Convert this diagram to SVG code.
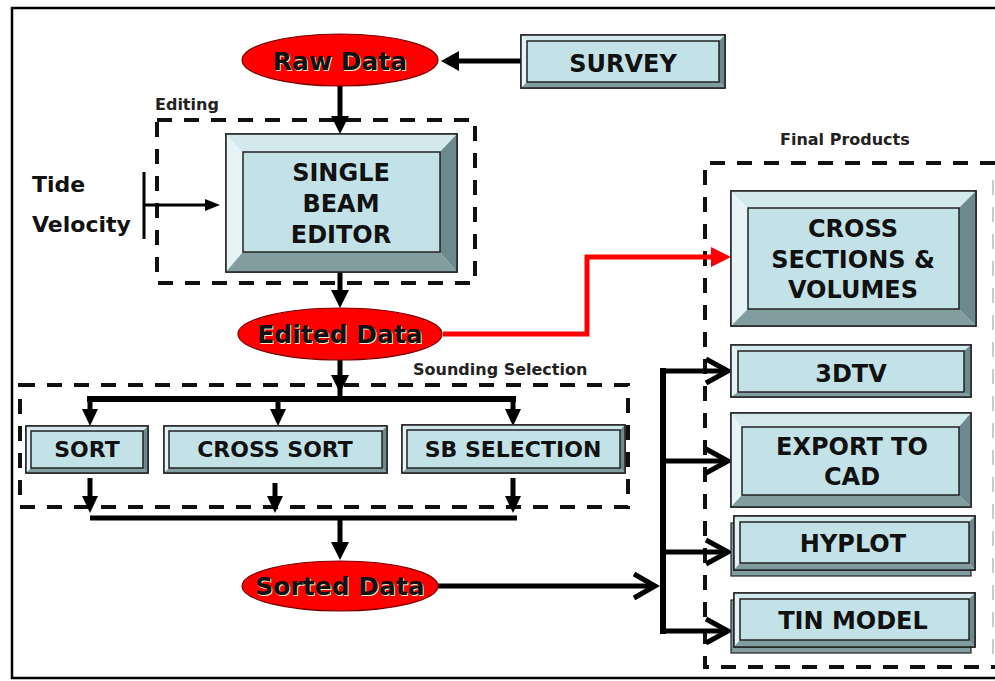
<svg xmlns="http://www.w3.org/2000/svg" width="995" height="681" viewBox="0 0 995 681">
<style>
.t{font-family:"DejaVu Sans","Verdana",sans-serif;font-weight:bold;fill:#111;text-anchor:middle}
.big{font-size:24px}
.mid{font-size:22px}
.lbl{font-family:"DejaVu Sans","Verdana",sans-serif;font-weight:bold;font-size:16px;fill:#222}
.sh{fill:#f0eccc}
.dash{fill:none;stroke:#111;stroke-width:4;stroke-dasharray:15 12}
.face{fill:#c3e2e7;stroke:#222;stroke-width:1.5}
.bt{fill:#d3e9ec}
.bl{fill:#e6f4f6}
.br{fill:#6c8a8d}
.bb{fill:#819da0}
.ol{fill:none;stroke:#222;stroke-width:1.5}
.ell{fill:#ff0000;stroke:#7a0000;stroke-width:1.2}
.ln{fill:none;stroke:#000;stroke-width:5}
.hd{fill:#000}
.chev{fill:none;stroke:#000;stroke-width:5;stroke-linejoin:miter}
</style>
<rect x="0" y="0" width="995" height="681" fill="#ffffff"/>
<rect x="12" y="8" width="995" height="670" fill="none" stroke="#000" stroke-width="2.5"/>

<!-- group frames -->
<g id="editing-group">
<rect class="dash" x="157" y="120" width="318" height="163"/>
<text class="lbl" x="155" y="110">Editing</text>
</g>
<g id="sounding-group">
<rect class="dash" x="20" y="385" width="608" height="122"/>
<text class="lbl" x="413" y="375">Sounding Selection</text>
</g>
<g id="final-group">
<path class="dash" d="M995 163 H705 V667 H995"/>
<line x1="993" y1="180" x2="993" y2="660" stroke="#bbb" stroke-width="1.5" stroke-dasharray="15 12"/>
<text class="lbl" x="780" y="145">Final Products</text>
</g>

<!-- connectors -->
<g id="connectors">
<line class="ln" x1="521" y1="61" x2="455" y2="61"/>
<polygon class="hd" points="441,61 459,51 459,71"/>
<line class="ln" x1="340" y1="86" x2="340" y2="120"/>
<polygon class="hd" points="340,134 331,116 349,116"/>
<line x1="144" y1="172" x2="144" y2="239" stroke="#000" stroke-width="3"/>
<line x1="144" y1="205" x2="208" y2="205" stroke="#000" stroke-width="3"/>
<polygon class="hd" points="220,205 205,199 205,211"/>
<line class="ln" x1="340" y1="272" x2="340" y2="294"/>
<polygon class="hd" points="340,308 331,290 349,290"/>
<polyline points="443,334 587,334 587,257 714,257" fill="none" stroke="#ff0000" stroke-width="5"/>
<polygon points="731,257 711,247 711,267" fill="#ff0000"/>
<line class="ln" x1="340" y1="360" x2="340" y2="399"/>
<polygon class="hd" points="340,393 331,375 349,375"/>
<line x1="87" y1="399" x2="516" y2="399" stroke="#000" stroke-width="6"/>
<line class="ln" x1="90" y1="399" x2="90" y2="412"/>
<polygon class="hd" points="90,426 82,409 98,409"/>
<line class="ln" x1="278" y1="399" x2="278" y2="412"/>
<polygon class="hd" points="278,426 270,409 286,409"/>
<line class="ln" x1="513" y1="399" x2="513" y2="412"/>
<polygon class="hd" points="513,426 505,409 521,409"/>
<line class="ln" x1="90" y1="478" x2="90" y2="500"/>
<polygon class="hd" points="90,513 82,496 98,496"/>
<line class="ln" x1="275" y1="483" x2="275" y2="500"/>
<polygon class="hd" points="275,513 267,496 283,496"/>
<line class="ln" x1="513" y1="478" x2="513" y2="500"/>
<polygon class="hd" points="513,513 505,496 521,496"/>
<line x1="90" y1="518" x2="517" y2="518" stroke="#000" stroke-width="5"/>
<line class="ln" x1="340" y1="518" x2="340" y2="545"/>
<polygon class="hd" points="340,560 331,542 349,542"/>
<line class="ln" x1="438" y1="586" x2="654" y2="586"/>
<polyline class="chev" points="634,574 655,586 634,598"/>
<line x1="663" y1="368" x2="663" y2="634" stroke="#000" stroke-width="6"/>
<line class="ln" x1="660" y1="371" x2="726" y2="371"/>
<polyline class="chev" points="706,359 728,371 706,383"/>
<line class="ln" x1="660" y1="461" x2="726" y2="461"/>
<polyline class="chev" points="706,449 728,461 706,473"/>
<line class="ln" x1="660" y1="552" x2="726" y2="552"/>
<polyline class="chev" points="706,540 728,552 706,564"/>
<line class="ln" x1="660" y1="631" x2="726" y2="631"/>
<polyline class="chev" points="706,619 728,631 706,643"/>
</g>

<!-- nodes -->
<g id="raw-data">
<ellipse class="ell" cx="340" cy="60" rx="98" ry="26"/>
<text class="t sh" x="341" y="71" style="font-size:25px">Raw Data</text>
<text class="t" x="340" y="70" style="font-size:25px">Raw Data</text>
</g>

<g id="survey">
<rect x="521" y="35" width="204" height="53" class="face"/>
<polygon class="bt" points="521,35 725,35 719,41 527,41"/>
<polygon class="bl" points="521,35 527,41 527,82 521,88"/>
<polygon class="br" points="725,35 725,88 719,82 719,41"/>
<polygon class="bb" points="521,88 725,88 719,82 527,82"/>
<rect x="527" y="41" width="192" height="41" class="face"/>
<rect x="521" y="35" width="204" height="53" class="ol"/>
<text class="t big" x="623" y="72">SURVEY</text>
</g>

<g id="single-beam-editor">
<rect x="226" y="134" width="231" height="138" class="face"/>
<polygon class="bt" points="226,134 457,134 440,152 243,152"/>
<polygon class="bl" points="226,134 243,152 243,252 226,272"/>
<polygon class="br" points="457,134 457,272 440,252 440,152"/>
<polygon class="bb" points="226,272 457,272 440,252 243,252"/>
<rect x="243" y="152" width="197" height="100" class="face"/>
<rect x="226" y="134" width="231" height="138" class="ol"/>
<text class="t big" x="341" y="181">SINGLE</text>
<text class="t big" x="341" y="212">BEAM</text>
<text class="t big" x="341" y="243">EDITOR</text>
</g>

<g id="tide-velocity">
<text class="t mid" x="32" y="192" style="text-anchor:start">Tide</text>
<text class="t mid" x="32" y="232" style="text-anchor:start">Velocity</text>
</g>

<g id="edited-data">
<ellipse class="ell" cx="340" cy="334" rx="102" ry="26"/>
<text class="t sh" x="341" y="344" style="font-size:25px">Edited Data</text>
<text class="t" x="340" y="343" style="font-size:25px">Edited Data</text>
</g>

<g id="sort">
<rect x="26" y="426" width="122" height="47" class="face"/>
<polygon class="bt" points="26,426 148,426 143,431 31,431"/>
<polygon class="bl" points="26,426 31,431 31,468 26,473"/>
<polygon class="br" points="148,426 148,473 143,468 143,431"/>
<polygon class="bb" points="26,473 148,473 143,468 31,468"/>
<rect x="31" y="431" width="112" height="37" class="face"/>
<rect x="26" y="426" width="122" height="47" class="ol"/>
<text class="t mid" x="87" y="457">SORT</text>
</g>

<g id="cross-sort">
<rect x="164" y="426" width="223" height="47" class="face"/>
<polygon class="bt" points="164,426 387,426 382,431 169,431"/>
<polygon class="bl" points="164,426 169,431 169,468 164,473"/>
<polygon class="br" points="387,426 387,473 382,468 382,431"/>
<polygon class="bb" points="164,473 387,473 382,468 169,468"/>
<rect x="169" y="431" width="213" height="37" class="face"/>
<rect x="164" y="426" width="223" height="47" class="ol"/>
<text class="t mid" x="275" y="457">CROSS SORT</text>
</g>

<g id="sb-selection">
<rect x="402" y="425" width="223" height="48" class="face"/>
<polygon class="bt" points="402,425 625,425 620,430 407,430"/>
<polygon class="bl" points="402,425 407,430 407,468 402,473"/>
<polygon class="br" points="625,425 625,473 620,468 620,430"/>
<polygon class="bb" points="402,473 625,473 620,468 407,468"/>
<rect x="407" y="430" width="213" height="38" class="face"/>
<rect x="402" y="425" width="223" height="48" class="ol"/>
<text class="t mid" x="513" y="457">SB SELECTION</text>
</g>

<g id="sorted-data">
<ellipse class="ell" cx="340" cy="586" rx="98" ry="25"/>
<text class="t sh" x="341" y="596" style="font-size:25px">Sorted Data</text>
<text class="t" x="340" y="595" style="font-size:25px">Sorted Data</text>
</g>

<g id="cross-sections">
<rect x="731" y="191" width="245" height="135" class="face"/>
<polygon class="bt" points="731,191 976,191 959,208 748,208"/>
<polygon class="bl" points="731,191 748,208 748,309 731,326"/>
<polygon class="br" points="976,191 976,326 959,309 959,208"/>
<polygon class="bb" points="731,326 976,326 959,309 748,309"/>
<rect x="748" y="208" width="211" height="101" class="face"/>
<rect x="731" y="191" width="245" height="135" class="ol"/>
<text class="t big" x="853" y="237">CROSS</text>
<text class="t big" x="853" y="268">SECTIONS &amp;</text>
<text class="t big" x="853" y="298">VOLUMES</text>
</g>

<g id="tdtv">
<rect x="731" y="345" width="240" height="52" class="face"/>
<polygon class="bt" points="731,345 971,345 964,351 738,351"/>
<polygon class="bl" points="731,345 738,351 738,392 731,397"/>
<polygon class="br" points="971,345 971,397 964,392 964,351"/>
<polygon class="bb" points="731,397 971,397 964,392 738,392"/>
<rect x="738" y="351" width="226" height="41" class="face"/>
<rect x="731" y="345" width="240" height="52" class="ol"/>
<text class="t big" x="851" y="382">3DTV</text>
</g>

<g id="export-cad">
<rect x="731" y="413" width="240" height="94" class="face"/>
<polygon class="bt" points="731,413 971,413 959,427 742,427"/>
<polygon class="bl" points="731,413 742,427 742,495 731,507"/>
<polygon class="br" points="971,413 971,507 959,495 959,427"/>
<polygon class="bb" points="731,507 971,507 959,495 742,495"/>
<rect x="742" y="427" width="217" height="68" class="face"/>
<rect x="731" y="413" width="240" height="94" class="ol"/>
<text class="t big" x="852" y="455">EXPORT TO</text>
<text class="t big" x="852" y="485">CAD</text>
</g>

<g id="hyplot">
<rect x="731" y="523" width="240" height="53" fill="#819da0" stroke="#222" stroke-width="1.2"/>
<rect x="734" y="516" width="241" height="54" class="face"/>
<polygon class="bt" points="734,516 975,516 969,522 740,522"/>
<polygon class="bl" points="734,516 740,522 740,563 734,570"/>
<polygon class="br" points="975,516 975,570 969,563 969,522"/>
<polygon class="bb" points="734,570 975,570 969,563 740,563"/>
<rect x="740" y="522" width="229" height="41" class="face"/>
<rect x="734" y="516" width="241" height="54" class="ol"/>
<text class="t big" x="853" y="552">HYPLOT</text>
</g>

<g id="tin-model">
<rect x="731" y="600" width="240" height="53" fill="#819da0" stroke="#222" stroke-width="1.2"/>
<rect x="734" y="593" width="241" height="54" class="face"/>
<polygon class="bt" points="734,593 975,593 969,599 740,599"/>
<polygon class="bl" points="734,593 740,599 740,640 734,647"/>
<polygon class="br" points="975,593 975,647 969,640 969,599"/>
<polygon class="bb" points="734,647 975,647 969,640 740,640"/>
<rect x="740" y="599" width="229" height="41" class="face"/>
<rect x="734" y="593" width="241" height="54" class="ol"/>
<text class="t big" x="853" y="629">TIN MODEL</text>
</g>
</svg>
